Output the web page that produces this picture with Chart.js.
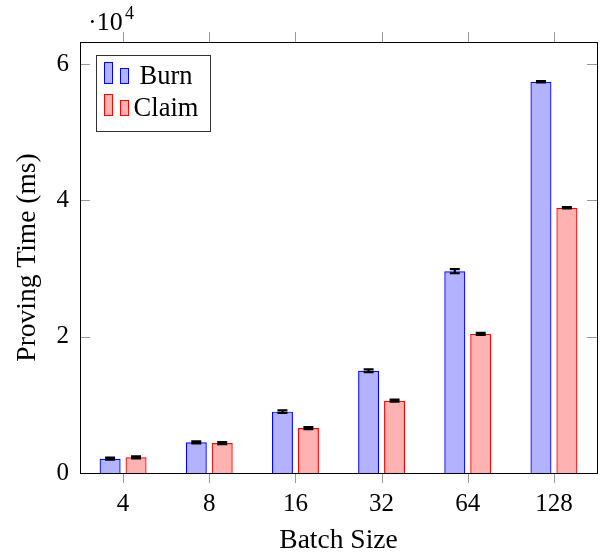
<!DOCTYPE html>
<html>
<head>
<meta charset="utf-8">
<script src="https://cdn.jsdelivr.net/npm/chart.js@4"></script>
<style>
  html, body { margin: 0; padding: 0; background: #fff; }
  #wrap { width: 606px; height: 553px; }
</style>
</head>
<body>
<div id="wrap"><canvas id="myChart" width="606" height="553"></canvas></div>
<script>
const batchSizes = ['4', '8', '16', '32', '64', '128'];
const burnTime = [2100, 4500, 9000, 15000, 29600, 57400];
const burnErr = [150, 150, 200, 200, 300, 100];
const claimTime = [2300, 4400, 6600, 10600, 20400, 38900];
const claimErr = [150, 150, 150, 150, 150, 100];
const yTicks = [0, 20000, 40000, 60000];

const SERIF = "'Liberation Serif', 'Times New Roman', serif";

// error bar di atas tiap batang
const errorBars = {
    id: 'errorBars',
    afterDatasetsDraw(chart) {
        const c = chart.ctx;
        const y = chart.scales.y;
        const errs = [burnErr, claimErr];
        c.save();
        c.strokeStyle = '#000';
        c.lineWidth = 2.2;
        chart.data.datasets.forEach((ds, i) => {
            chart.getDatasetMeta(i).data.forEach((bar, j) => {
                const v = ds.data[j];
                const top = y.getPixelForValue(v + errs[i][j]);
                const bot = y.getPixelForValue(v - errs[i][j]);
                c.beginPath();
                c.moveTo(bar.x, top); c.lineTo(bar.x, bot);
                c.moveTo(bar.x - 5, top); c.lineTo(bar.x + 5, top);
                c.moveTo(bar.x - 5, bot); c.lineTo(bar.x + 5, bot);
                c.stroke();
            });
        });
        c.restore();
    }
};

// kotak axis, tick marks, legend dan faktor 10^4
const frame = {
    id: 'frame',
    afterDraw(chart) {
        const c = chart.ctx;
        const a = chart.chartArea;
        const xs = chart.scales.x;
        const ys = chart.scales.y;
        c.save();
        c.strokeStyle = '#999';
        c.lineWidth = 1;
        c.beginPath();
        batchSizes.forEach((_, i) => {
            const px = Math.round(xs.getPixelForTick(i)) + 0.5;
            c.moveTo(px, a.bottom); c.lineTo(px, a.bottom + 10);
            c.moveTo(px, a.top); c.lineTo(px, a.top - 10);
        });
        yTicks.forEach(t => {
            const py = Math.round(ys.getPixelForValue(t)) + 0.5;
            c.moveTo(a.left, py); c.lineTo(a.left + 10, py);
            c.moveTo(a.right, py); c.lineTo(a.right - 10, py);
        });
        c.stroke();

        c.strokeStyle = '#000';
        c.strokeRect(Math.round(a.left) + 0.5, Math.round(a.top) + 0.5,
            Math.round(a.right - a.left), Math.round(a.bottom - a.top));

        // legend
        c.fillStyle = '#fff';
        c.fillRect(96, 55, 115, 77);
        c.strokeStyle = '#333';
        c.strokeRect(96.5, 55.5, 114, 76);
        const items = [
            { label: 'Burn', fill: 'rgba(0,0,255,0.3)', line: '#0000ff', y: 62 },
            { label: 'Claim', fill: 'rgba(255,0,0,0.3)', line: '#ff0000', y: 94 }
        ];
        items.forEach(it => {
            c.fillStyle = it.fill;
            c.strokeStyle = it.line;
            c.fillRect(104.5, it.y + 0.5, 8, 21);
            c.strokeRect(104.5, it.y + 0.5, 8, 21);
            c.fillRect(120.5, it.y + 6.5, 8, 15);
            c.strokeRect(120.5, it.y + 6.5, 8, 15);
            c.fillStyle = '#000';
            c.font = '26.5px ' + SERIF;
            c.textAlign = 'center';
            c.textBaseline = 'alphabetic';
            c.fillText(it.label, 166, it.y + 22);
        });

        c.textAlign = 'left';
        c.font = '26px ' + SERIF;
        c.fillText('\u00b710', 88, 30);
        c.font = '18px ' + SERIF;
        c.fillText('4', 125, 19);
        c.restore();
    }
};

document.addEventListener("DOMContentLoaded", function () {
    const ctx = document.getElementById('myChart');
    new Chart(ctx, {
        type: 'bar',
        data: {
            labels: batchSizes,
            datasets: [{
                label: 'Burn',
                data: burnTime,
                backgroundColor: 'rgba(0,0,255,0.3)',
                borderColor: '#0000ff',
                borderWidth: 1.2
            }, {
                label: 'Claim',
                data: claimTime,
                backgroundColor: 'rgba(255,0,0,0.3)',
                borderColor: '#ff0000',
                borderWidth: 1.2
            }]
        },
        options: {
            responsive: false,
            animation: false,
            layout: { padding: { left: 0, right: 9, top: 42, bottom: 0 } },
            plugins: {
                legend: { display: false },
                tooltip: { enabled: false }
            },
            datasets: {
                bar: { categoryPercentage: 0.602, barPercentage: 0.81 }
            },
            scales: {
                x: {
                    grid: { display: false, drawTicks: false },
                    border: { display: false },
                    ticks: { color: '#000', font: { family: SERIF, size: 25 }, padding: 16 },
                    title: {
                        display: true, text: 'Batch Size', color: '#000',
                        font: { family: SERIF, size: 27.5 }, padding: { top: 0, bottom: -4 }
                    },
                    afterFit(scale) { scale.height = 80; }
                },
                y: {
                    min: 0,
                    max: 63220,
                    grid: { display: false, drawTicks: false },
                    border: { display: false },
                    afterBuildTicks(scale) { scale.ticks = yTicks.map(v => ({ value: v })); },
                    ticks: {
                        color: '#000',
                        font: { family: SERIF, size: 25 },
                        padding: 11,
                        callback: v => String(v / 10000)
                    },
                    title: {
                        display: true, text: 'Proving Time (ms)', color: '#000',
                        font: { family: SERIF, size: 27.5 }, padding: { top: 11, bottom: 0 }
                    },
                    afterFit(scale) { scale.width = 80; }
                }
            }
        },
        plugins: [errorBars, frame]
    });
});
</script>
</body>
</html>
